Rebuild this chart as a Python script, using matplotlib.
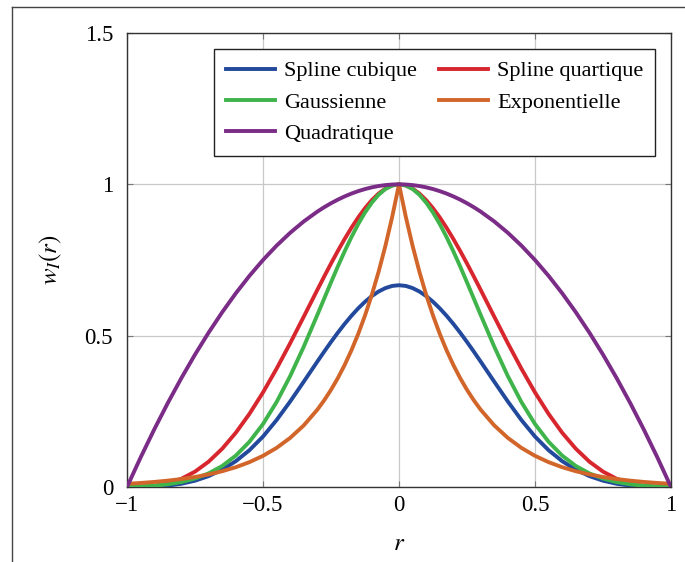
import numpy as np
import matplotlib
matplotlib.use('Agg')
import matplotlib.pyplot as plt
from matplotlib.lines import Line2D

# --- values, for r >= 0 (curves are symmetric in r)
r_half = [0.0, 0.025, 0.05, 0.075, 0.1, 0.125, 0.15, 0.175, 0.2, 0.225, 0.25, 0.275, 0.3,
          0.35, 0.4, 0.45, 0.5, 0.55, 0.6, 0.65, 0.7, 0.75, 0.8, 0.85, 0.9, 0.95, 1.0]

spline_cubique = [0.6667, 0.6643, 0.6572, 0.6459, 0.6307, 0.6120, 0.5902, 0.5656, 0.5387, 0.5098,
                  0.4792, 0.4474, 0.4147, 0.3482, 0.2827, 0.2212, 0.1667,
                  0.1215, 0.0853, 0.0572, 0.0360, 0.0208, 0.0107, 0.0045, 0.0013, 0.0002, 0.0]
spline_quartique = [1.0, 0.9964, 0.986, 0.9695, 0.9477, 0.9211, 0.8905, 0.8563, 0.8192, 0.7797,
                    0.7383, 0.6955, 0.6517, 0.563, 0.4752, 0.391, 0.3125,
                    0.2415, 0.1792, 0.1265, 0.0837, 0.0508, 0.0272, 0.012, 0.0037, 0.0005, 0.0]
gaussienne = [1.0, 0.9961, 0.9845, 0.9655, 0.9393, 0.9069, 0.8686, 0.8255, 0.7784, 0.7284,
              0.6761, 0.6226, 0.569, 0.464, 0.3667, 0.2807, 0.2081,
              0.1494, 0.1037, 0.0695, 0.045, 0.0279, 0.0164, 0.009, 0.0044, 0.0016, 0.0]
exponentielle = [1.0, 0.8926, 0.7967, 0.7111, 0.6348, 0.5666, 0.5057, 0.4514, 0.4029, 0.3596,
                 0.321, 0.2865, 0.2557, 0.2037, 0.1623, 0.1293, 0.103,
                 0.0821, 0.0654, 0.0521, 0.0415, 0.0331, 0.0263, 0.021, 0.0167, 0.0133, 0.0106]
quadratique = [1.0, 0.9994, 0.9975, 0.9944, 0.99, 0.9844, 0.9775, 0.9694, 0.96, 0.9494,
               0.9375, 0.9244, 0.91, 0.8775, 0.84, 0.7975, 0.75,
               0.6975, 0.64, 0.5775, 0.51, 0.4375, 0.36, 0.2775, 0.19, 0.0975, 0.0]

labels = ['Spline cubique', 'Spline quartique', 'Gaussienne', 'Exponentielle', 'Quadratique']
colors = ['#22499c', '#d7262e', '#3fb44b', '#d2662a', '#7a2c87']

x_ticks = [-1, -0.5, 0, 0.5, 1]
x_ticklabels = ['\u22121', '\u22120.5', '0', '0.5', '1']
y_ticks = [0, 0.5, 1, 1.5]
y_ticklabels = ['0', '0.5', '1', '1.5']


def full(vals):
    # mirror the r >= 0 half onto r <= 0
    return np.concatenate([vals[::-1], vals[1:]])


r = np.concatenate([-np.array(r_half[::-1]), np.array(r_half[1:])])
series = [spline_cubique, spline_quartique, gaussienne, exponentielle, quadratique]

plt.rcParams['font.family'] = ['Liberation Serif', 'DejaVu Serif']
plt.rcParams['mathtext.fontset'] = 'stix'
plt.rcParams['font.size'] = 16

fig = plt.figure(figsize=(6.85, 5.62), dpi=100)
ax = fig.add_axes([127 / 685, 75 / 562, 544 / 685, 454 / 562])

lines = {}
for lab, vals, col in zip(labels, series, colors):
    ln, = ax.plot(r, full(np.array(vals)), color=col, lw=2.8, label=lab,
                  solid_joinstyle='round', zorder=3)
    lines[lab] = ln

ax.set_xlim(-1, 1)
ax.set_ylim(0, 1.5)
ax.set_xticks(x_ticks)
ax.set_xticklabels(x_ticklabels)
ax.set_yticks(y_ticks)
ax.set_yticklabels(y_ticklabels)
ax.grid(True, color='#c8c8c8', lw=0.9)
ax.set_axisbelow(True)
ax.tick_params(direction='in', length=4, width=0.8, color='#777777',
               top=True, right=True, labelsize=16.5)
ax.tick_params(axis='y', pad=10)
ax.tick_params(axis='x', pad=6)
for sp in ax.spines.values():
    sp.set_color('#333333')
    sp.set_linewidth(1.0)

ax.set_xlabel('$r$', fontsize=18, labelpad=12)
ax.set_ylabel('$w_I(r)$', fontsize=18, labelpad=15)

order = ['Spline cubique', 'Gaussienne', 'Quadratique', 'Spline quartique', 'Exponentielle']
leg = ax.legend([lines[k] for k in order], order, ncol=2, loc='upper right',
                fontsize=16, frameon=True, fancybox=False, edgecolor='#222222',
                framealpha=1, borderaxespad=0.7, handlelength=2.2,
                handletextpad=0.4, columnspacing=1.0, labelspacing=0.48,
                borderpad=0.55)
leg.get_frame().set_linewidth(1.0)

# outer frame of the screenshot
fig.add_artist(Line2D([12 / 685, 12 / 685], [0, 555 / 562], color='#444444', lw=1.0))
fig.add_artist(Line2D([12 / 685, 1], [555 / 562, 555 / 562], color='#444444', lw=1.0))

plt.savefig('out.png', dpi=100)
